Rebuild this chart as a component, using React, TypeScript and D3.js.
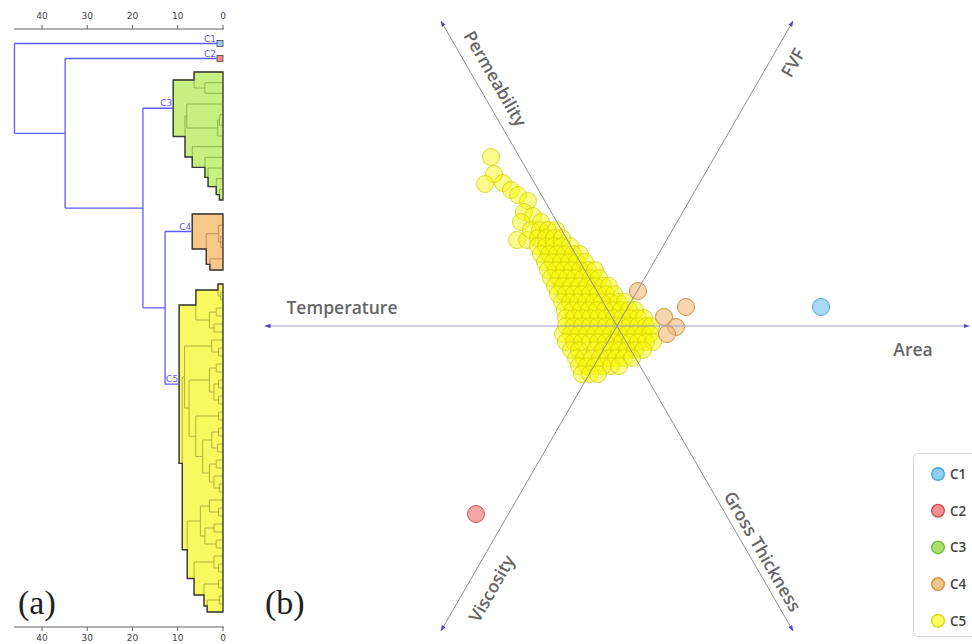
import React from "react";
import * as d3 from "d3";

type Tree = 0 | [number, Tree, Tree];
type Outer = string | [number, Outer, Outer];

// ---------- (a) dendrogram data ----------
const distanceTicks = [40, 30, 20, 10, 0];
const clusterNames = ["C1", "C2", "C3", "C4", "C5"];
const outerLinkage: Outer = [46.1, "C1", [34.9, "C2", [17.7, "C3", [12.8, "C4", "C5"]]]];

const treeC1: Tree = 0;
const treeC2: Tree = 0;
const treeC3: Tree = [11,
  [6.4, 0, [4, 0, 0]],
  [8.4,
    [8, 0, [1.2, [0.8, 0, 0], 0]],
    [6.8, 0, [4, 0, [3.3, 0, [1.5, 0, [0.8, 0, 0]]]]]]];
const treeC4: Tree = [6.8, 0, [3.7, [1, 0, [0.5, 0, 0]], [2.9, 0, 0]]];
const treeC5: Tree = [9.7,
  [6, [1.1, 0, [0.5, 0, 0]], [3, [1.5, 0, 0], [2, 0, 0]]],
  [9,
    [8.5,
      [2.5, 0, [1, 0, 0]],
      [7.5,
        [3, [1.5, 0, 0], [2, [1, 0, 0], [1, 0, 0]]],
        [6, [1, 0, 0],
          [4.5, [2.5, [1, 0, 0], [1.2, 0, 0]], [3, [1.5, 0, 0], [2, 0, [0.8, 0, 0]]]]]]],
    [7.9,
      [5, [3, 0, [1, 0, 0]], [4, [2, 0, 0], [1.5, 0, 0]]],
      [6.4, [2, 0, [1, 0, 0]], [4.2, [1, 0, 0], [3.5, [0.8, 0, 0], 0]]]]]];

// ---------- (b) radviz data ----------
const anchorNames = ["Area", "FVF", "Permeability", "Temperature", "Viscosity", "Gross Thickness"];
const anchorAngles = [0, 60, 120, 180, 240, 300];
const radvizExtent = 352;

const pointsC1: [number, number][] = [[204, 19]];
const pointsC2: [number, number][] = [[-141, -188]];
const pointsC4: [number, number][] = [[21, 35], [69, 19], [47, 9], [59, -1], [50, -8]];
const pointsC5: [number, number][] = [
  [-126, 169], [-123, 152], [-132, 142], [-114, 143], [-106, 136], [-99, 131], [-89, 125],
  [-93, 114], [-84, 110], [-76, 104], [-96, 104], [-100, 86], [-90, 86], [-86, 96],
  [-77, 96], [-69, 96], [-61, 96],
  [-79, 88], [-71, 88], [-63, 88], [-55, 88],
  [-79, 80], [-71, 80], [-63, 80], [-55, 80], [-47, 80],
  [-76, 72], [-68, 72], [-60, 72], [-52, 72], [-44, 72], [-37, 72],
  [-72, 64], [-64, 64], [-56, 64], [-48, 64], [-40, 64], [-32, 64],
  [-69, 56], [-61, 56], [-53, 56], [-45, 56], [-37, 56], [-29, 56], [-22, 56],
  [-66, 48], [-58, 48], [-50, 48], [-42, 48], [-34, 48], [-26, 48], [-18, 48],
  [-62, 40], [-54, 40], [-46, 40], [-38, 40], [-30, 40], [-22, 40], [-14, 40], [-8, 40],
  [-59, 32], [-51, 32], [-43, 32], [-35, 32], [-27, 32], [-19, 32], [-11, 32], [-3, 32],
  [-55, 24], [-47, 24], [-39, 24], [-31, 24], [-23, 24], [-15, 24], [-7, 24], [1, 24], [8, 24],
  [-52, 16], [-44, 16], [-36, 16], [-28, 16], [-20, 16], [-12, 16], [-4, 16], [4, 16], [12, 16], [18, 16],
  [-51, 8], [-43, 8], [-35, 8], [-27, 8], [-19, 8], [-11, 8], [-3, 8], [5, 8], [13, 8], [21, 8], [27, 8],
  [-51, 0], [-43, 0], [-35, 0], [-27, 0], [-19, 0], [-11, 0], [-3, 0], [5, 0], [13, 0], [21, 0], [29, 0], [34, 0],
  [-54, -8], [-46, -8], [-38, -8], [-30, -8], [-22, -8], [-14, -8], [-6, -8], [2, -8], [10, -8], [18, -8], [26, -8], [33, -8],
  [-51, -16], [-43, -16], [-35, -16], [-27, -16], [-19, -16], [-11, -16], [-3, -16], [5, -16], [13, -16], [21, -16], [29, -16], [36, -16],
  [-46, -24], [-38, -24], [-22, -24], [-14, -24], [-6, -24], [2, -24], [10, -24], [18, -24], [26, -24],
  [-41, -32], [-33, -32], [-25, -32], [-17, -32], [-9, -32], [-1, -32], [7, -32], [15, -32],
  [-38, -40], [-30, -40], [-22, -40], [-14, -40], [-6, -40], [2, -40],
  [-35, -48], [-27, -48], [-19, -48],
];

// ---------- styles ----------
const clusterFill: Record<string, string> = {
  C1: "#8fd0f2", C2: "#ee8c8c", C3: "#c8f080", C4: "#f8c888", C5: "#f8f860",
};
const clusterInner: Record<string, string> = {
  C3: "#86ab4a", C4: "#b58a5e", C5: "#aaaa3a",
};
const pointStyle: Record<string, { fill: string; stroke: string }> = {
  C1: { fill: "rgba(140,205,240,0.75)", stroke: "#52a8dc" },
  C2: { fill: "rgba(238,130,130,0.7)", stroke: "#d05050" },
  C3: { fill: "rgba(160,220,100,0.6)", stroke: "#7cc040" },
  C4: { fill: "rgba(240,180,110,0.55)", stroke: "#d09048" },
  C5: { fill: "rgba(248,248,0,0.45)", stroke: "rgba(205,205,0,0.75)" },
};
const legendStyle: Record<string, { fill: string; stroke: string }> = {
  C1: { fill: "#8fd0f2", stroke: "#4aa4d8" },
  C2: { fill: "#f09090", stroke: "#d04c4c" },
  C3: { fill: "#a8e070", stroke: "#74bc3c" },
  C4: { fill: "#f2c488", stroke: "#cf9346" },
  C5: { fill: "#ffff66", stroke: "#d8d800" },
};

interface LNode { h: number; y: number; kids: LNode[] | null; }

function countLeaves(t: Tree): number {
  return t === 0 ? 1 : countLeaves(t[1]) + countLeaves(t[2]);
}
function layoutTree(t: Tree, y0: number, y1: number): LNode {
  const n = countLeaves(t);
  const step = n > 1 ? (y1 - y0) / (n - 1) : 0;
  let i = 0;
  const rec = (s: Tree): LNode => {
    if (s === 0) { const y = y0 + step * i; i++; return { h: 0, y, kids: null }; }
    const a = rec(s[1]);
    const b = rec(s[2]);
    return { h: s[0], y: (a.y + b.y) / 2, kids: [a, b] };
  };
  return rec(t);
}

function clusterParts(root: LNode, x: d3.ScaleLinear<number, number>) {
  const rects: { h: number; ya: number; yb: number }[] = [];
  let inner = "";
  const walk = (n: LNode) => {
    if (!n.kids) return;
    const [a, b] = n.kids;
    rects.push({ h: n.h, ya: a.y, yb: b.y });
    inner += `M${x(n.h)},${a.y}V${b.y}`;
    for (const c of n.kids) inner += `M${x(n.h)},${c.y}H${x(c.h)}`;
    walk(a); walk(b);
  };
  walk(root);
  const bounds = Array.from(new Set(rects.flatMap((r) => [r.ya, r.yb]))).sort((p, q) => p - q);
  const pts: [number, number][] = [[x(0), bounds[0]]];
  for (let i = 0; i < bounds.length - 1; i++) {
    const m = (bounds[i] + bounds[i + 1]) / 2;
    let h = 0;
    for (const r of rects) if (r.ya <= m && m <= r.yb) h = Math.max(h, r.h);
    pts.push([x(h), bounds[i]], [x(h), bounds[i + 1]]);
  }
  pts.push([x(0), bounds[bounds.length - 1]]);
  return { outline: (d3.line()(pts) || "") + "Z", inner };
}

export default function App() {
  // ----- layout for (a) -----
  const dx = d3.scaleLinear().domain([0, 46.2]).range([223, 14]);
  const axisTopY = 29;
  const axisBottomY = 627;
  const bands: Record<string, [number, number]> = {
    C1: [43.5, 43.5], C2: [58.5, 58.5], C3: [72, 200], C4: [214, 270], C5: [284, 612],
  };
  const trees: Record<string, Tree> = { C1: treeC1, C2: treeC2, C3: treeC3, C4: treeC4, C5: treeC5 };
  const roots: Record<string, LNode> = {};
  for (const c of clusterNames) roots[c] = layoutTree(trees[c], bands[c][0], bands[c][1]);

  const blue = "#5b5bff";
  const bluePaths: string[] = [];
  const clusterLabels: { name: string; x: number; y: number }[] = [];
  const squareW = 6;
  const layoutOuter = (o: Outer): { h: number; y: number; endX: number } => {
    if (typeof o === "string") {
      const r = roots[o];
      const endX = r.kids ? dx(r.h) : dx(0) - squareW;
      return { h: r.h, y: r.y, endX };
    }
    const a = layoutOuter(o[1]);
    const b = layoutOuter(o[2]);
    const xh = dx(o[0]);
    bluePaths.push(`M${xh},${a.y}V${b.y}M${xh},${a.y}H${a.endX}M${xh},${b.y}H${b.endX}`);
    if (typeof o[1] === "string") clusterLabels.push({ name: o[1], x: a.endX, y: a.y });
    if (typeof o[2] === "string") clusterLabels.push({ name: o[2], x: b.endX, y: b.y });
    return { h: o[0], y: (a.y + b.y) / 2, endX: xh };
  };
  layoutOuter(outerLinkage);

  // ----- layout for (b) -----
  const CX = 617, CY = 326, RPX = 352;
  const sx = d3.scaleLinear().domain([-radvizExtent, radvizExtent]).range([CX - RPX, CX + RPX]);
  const sy = d3.scaleLinear().domain([-radvizExtent, radvizExtent]).range([CY + RPX, CY - RPX]);
  const labelAlong = [296, 316, 275, 275, 290, 268];
  const labelPerp = [23, 20, 19, 19, -22, -14];

  const anchorPts = anchorAngles.map((a) => {
    const t = (a * Math.PI) / 180;
    return [sx(radvizExtent * Math.cos(t)), sy(radvizExtent * Math.sin(t))];
  });

  const tickFont = "'DejaVu Sans', sans-serif";
  const labelFont = "'Open Sans', sans-serif";

  const series: [string, [number, number][]][] = [
    ["C5", pointsC5], ["C4", pointsC4], ["C1", pointsC1], ["C2", pointsC2],
  ];

  return (
    <svg width={972} height={644} style={{ position: "absolute", left: 0, top: 0, background: "#fff" }}>
      <defs>
        <marker id="arr" viewBox="0 0 6 6" refX="5.5" refY="3" markerWidth="6" markerHeight="6"
          markerUnits="userSpaceOnUse" orient="auto-start-reverse">
          <path d="M0,0.8L6,3L0,5.2Z" fill="#4a4ad0" />
        </marker>
      </defs>

      {/* ---------- (a) dendrogram ---------- */}
      <g>
        {[axisTopY, axisBottomY].map((ay, k) => (
          <g key={k}>
            <line x1={dx(46.2)} x2={dx(0) + 1} y1={ay} y2={ay} stroke="#666" strokeWidth={1} />
            {distanceTicks.map((t) => (
              <g key={t}>
                <line x1={dx(t)} x2={dx(t)} y1={ay} y2={k === 0 ? ay - 4 : ay + 4} stroke="#666" />
                <text x={dx(t)} y={k === 0 ? ay - 10 : ay + 14} textAnchor="middle"
                  fontSize={9} fontFamily={tickFont} fill="#444">{t}</text>
              </g>
            ))}
          </g>
        ))}

        {clusterNames.filter((c) => roots[c].kids).map((c) => {
          const p = clusterParts(roots[c], dx);
          return (
            <g key={c}>
              <path d={p.outline} fill={clusterFill[c]} stroke="none" />
              <path d={p.inner} fill="none" stroke={clusterInner[c]} strokeWidth={0.9} />
              <path d={p.outline} fill="none" stroke="#3a3a3a" strokeWidth={1.4} />
            </g>
          );
        })}

        {clusterNames.filter((c) => !roots[c].kids).map((c) => (
          <rect key={c} x={dx(0) - squareW} y={roots[c].y - 3} width={squareW} height={squareW}
            fill={clusterFill[c]} stroke="#444" strokeWidth={0.8} />
        ))}

        {bluePaths.map((d, i) => (
          <path key={i} d={d} fill="none" stroke={blue} strokeWidth={1.3} />
        ))}
        {clusterLabels.map((l) => (
          <text key={l.name} x={l.x - 1} y={l.y - 2} textAnchor="end" fontSize={9}
            fontFamily={tickFont} fill={blue}>{l.name}</text>
        ))}
        <text x={18} y={614} fontSize={34} fontFamily="'Liberation Serif', serif" fill="#222">(a)</text>
      </g>

      {/* ---------- (b) radviz ---------- */}
      <g>
        {series.map(([name, pts]) => (
          <g key={name}>
            {pts.map((p, i) => (
              <circle key={i} cx={sx(p[0])} cy={sy(p[1])} r={8.5}
                fill={pointStyle[name].fill} stroke={pointStyle[name].stroke} strokeWidth={1} />
            ))}
          </g>
        ))}
        {[0, 1, 2].map((i) => (
          <line key={i} x1={anchorPts[i + 3][0]} y1={anchorPts[i + 3][1]} x2={anchorPts[i][0]} y2={anchorPts[i][1]}
            stroke={i === 0 ? "#9d9dcc" : "#8f8f8f"} strokeWidth={1}
            markerStart="url(#arr)" markerEnd="url(#arr)" />
        ))}
        {anchorNames.map((name, i) => {
          const a = anchorAngles[i];
          const t = (a * Math.PI) / 180;
          const ux = Math.cos(t), uy = -Math.sin(t);
          const nx = Math.sin(t), ny = Math.cos(t);
          const px = CX + labelAlong[i] * ux + labelPerp[i] * nx;
          const py = CY + labelAlong[i] * uy + labelPerp[i] * ny;
          const rot = ((((-a) % 180) + 180 + 90) % 180) - 90;
          return (
            <text key={name} x={px} y={py} transform={`rotate(${rot},${px},${py})`}
              textAnchor="middle" dominantBaseline="central" fontSize={17.5} fontWeight={600}
              fontFamily={labelFont} fill="#666">{name}</text>
          );
        })}
        <text x={265} y={614} fontSize={34} fontFamily="'Liberation Serif', serif" fill="#222">(b)</text>

        {/* legend */}
        <rect x={913.5} y={453.5} width={80} height={183} rx={4} fill="#fff" stroke="#d6d6d6" />
        {clusterNames.map((c, i) => (
          <g key={c}>
            <circle cx={938} cy={474 + i * 36.7} r={6.3} fill={legendStyle[c].fill}
              stroke={legendStyle[c].stroke} strokeWidth={1.4} />
            <text x={950} y={474 + i * 36.7} dominantBaseline="central" fontSize={13.5} fontWeight={600}
              fontFamily={labelFont} fill="#444">{c}</text>
          </g>
        ))}
      </g>
    </svg>
  );
}
